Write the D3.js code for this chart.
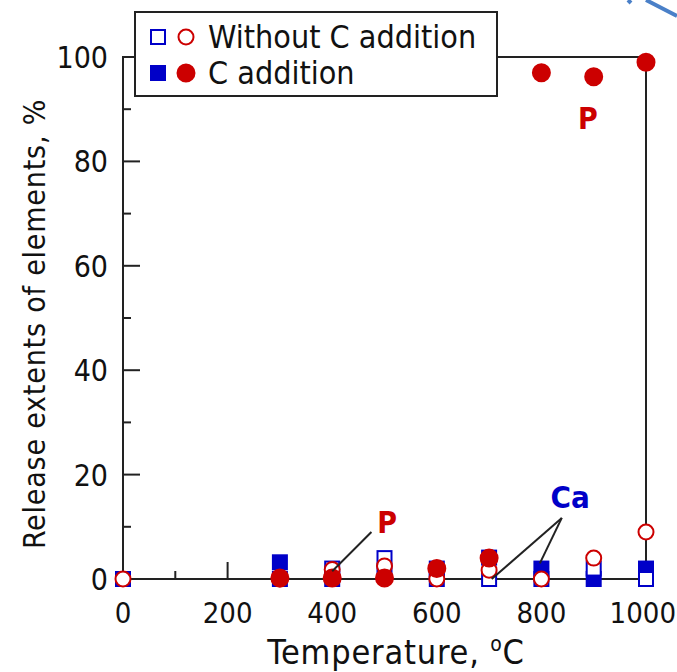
<!DOCTYPE html>
<html>
<head>
<meta charset="utf-8">
<script src="https://cdn.jsdelivr.net/npm/d3@7"></script>
<style>
  body { margin: 0; background: #fff; }
  svg { font-family: "DejaVu Sans Condensed", "DejaVu Sans", sans-serif; font-stretch: condensed; }
</style>
</head>
<body>
<svg id="drawing_region"></svg>
<script>
// temperatures, degC
const temps = [0, 300, 400, 500, 600, 700, 800, 900, 1000];
const tempsC = [300, 400, 500, 600, 700, 800, 900, 1000];

// Ca release, %
const caWithout = [0, 0, 2, 4, 0, 0, 0, 2, 0];
const caWith = [3.2, 0, 1, 2, 4.1, 2, 0, 2];

// P release, %
const pWithout = [0, 0, 1.8, 2.5, 0, 1.7, 0, 4, 9];
const pWith = [0.2, 0.2, 0.2, 2, 4, 97, 96.2, 99];

const xTicks = [0, 200, 400, 600, 800, 1000];
const yTicks = [0, 20, 40, 60, 80, 100];
const legendLabels = ['Without C addition', 'C addition'];

const width = 677, height = 672;
const blue = '#0000c8', red = '#cc0000', ink = '#222';

const svg = d3.select('#drawing_region')
    .attr('width', width)
    .attr('height', height);

const x = d3.scaleLinear().domain([0, 1000]).range([123, 646]);
const y = d3.scaleLinear().domain([0, 100]).range([579, 57]);

// frame
svg.append('rect')
    .attr('x', x(0)).attr('y', y(100))
    .attr('width', x(1000) - x(0)).attr('height', y(0) - y(100))
    .attr('fill', 'none').attr('stroke', ink).attr('stroke-width', 2);

// ticks, pointing inward
svg.append('g').selectAll('line').data(d3.range(10, 100, 10)).join('line')
    .attr('x1', x(0)).attr('x2', d => x(0) + (d % 20 === 0 ? 17 : 8))
    .attr('y1', d => y(d)).attr('y2', d => y(d))
    .attr('stroke', ink).attr('stroke-width', 2);
svg.append('g').selectAll('line').data(d3.range(100, 1000, 100)).join('line')
    .attr('x1', d => x(d)).attr('x2', d => x(d))
    .attr('y1', y(0)).attr('y2', d => y(0) - (d % 200 === 0 ? 17 : 8))
    .attr('stroke', ink).attr('stroke-width', 2);

// tick labels
svg.append('g').selectAll('text').data(yTicks).join('text')
    .attr('x', 108).attr('y', d => y(d) + 11)
    .attr('text-anchor', 'end').attr('font-size', 30).attr('fill', '#111')
    .text(d => d);
svg.append('g').selectAll('text').data(xTicks).join('text')
    .attr('x', d => x(d)).attr('y', 623)
    .attr('text-anchor', 'middle').attr('font-size', 29).attr('fill', '#111')
    .text(d => d)
    .each(function(d) {
        // keep the last label inside the page
        const w = this.getComputedTextLength();
        if (x(d) + w / 2 > width - 1) d3.select(this).attr('x', width - 1 - w / 2);
    });

// axis titles
svg.append('text')
    .attr('transform', 'translate(45, 324) rotate(-90)')
    .attr('text-anchor', 'middle').attr('font-size', 30).attr('letter-spacing', 0.8)
    .attr('fill', '#111')
    .text('Release extents of elements, %');
const xt = svg.append('text')
    .attr('x', 396).attr('y', 664)
    .attr('text-anchor', 'middle').attr('font-size', 34).attr('letter-spacing', 0.8)
    .attr('fill', '#111');
xt.append('tspan').text('Temperature, ');
xt.append('tspan').attr('font-size', 21).attr('dy', -13).text('o');
xt.append('tspan').attr('dy', 13).text('C');

// markers
const sq = 14, r = 7.5;
function squares(xs, vals, filled) {
    svg.append('g').selectAll('rect').data(vals).join('rect')
        .attr('x', (d, i) => x(xs[i]) - sq / 2)
        .attr('y', d => y(d) - sq / 2)
        .attr('width', sq).attr('height', sq)
        .attr('fill', filled ? blue : '#fff')
        .attr('stroke', blue).attr('stroke-width', 2);
}
function circles(xs, vals, filled) {
    svg.append('g').selectAll('circle').data(vals).join('circle')
        .attr('cx', (d, i) => x(xs[i]))
        .attr('cy', d => y(d))
        .attr('r', filled ? r + 1 : r)
        .attr('fill', filled ? red : '#fff')
        .attr('stroke', red).attr('stroke-width', 2);
}
squares(tempsC, caWith, true);
squares(temps, caWithout, false);
circles(temps, pWithout, false);
circles(tempsC, pWith, true);

// annotations
const ann = svg.append('g');
ann.append('line')
    .attr('x1', x(475)).attr('y1', y(9)).attr('x2', x(400)).attr('y2', y(1.5))
    .attr('stroke', ink).attr('stroke-width', 2);
ann.append('text')
    .attr('x', x(505)).attr('y', y(11) + 11)
    .attr('text-anchor', 'middle').attr('font-size', 30).attr('font-weight', 'bold')
    .attr('fill', red).text('P');
ann.append('text')
    .attr('x', x(889)).attr('y', y(88.3) + 11)
    .attr('text-anchor', 'middle').attr('font-size', 30).attr('font-weight', 'bold')
    .attr('fill', red).text('P');
[[705, 0], [797, 3]].forEach(p => {
    ann.append('line')
        .attr('x1', x(839)).attr('y1', y(11.7)).attr('x2', x(p[0])).attr('y2', y(p[1]))
        .attr('stroke', ink).attr('stroke-width', 2);
});
ann.append('text')
    .attr('x', x(855)).attr('y', y(15.7) + 11)
    .attr('text-anchor', 'middle').attr('font-size', 31).attr('font-weight', 'bold')
    .attr('fill', blue).text('Ca');

// legend
const leg = svg.append('g');
leg.append('rect')
    .attr('x', 135).attr('y', 12).attr('width', 362).attr('height', 84)
    .attr('fill', '#fff').attr('stroke', ink).attr('stroke-width', 2);
legendLabels.forEach((lab, i) => {
    const cy = 37 + i * 36, filled = i === 1;
    leg.append('rect')
        .attr('x', 158 - sq / 2).attr('y', cy - sq / 2).attr('width', sq).attr('height', sq)
        .attr('fill', filled ? blue : '#fff').attr('stroke', blue).attr('stroke-width', 2);
    leg.append('circle')
        .attr('cx', 186).attr('cy', cy).attr('r', filled ? r + 1 : r)
        .attr('fill', filled ? red : '#fff').attr('stroke', red).attr('stroke-width', 2);
    leg.append('text')
        .attr('x', 208).attr('y', cy + 11).attr('font-size', 32).attr('fill', '#111')
        .text(lab);
});

// stray blue stroke at top right
svg.append('path')
    .attr('d', 'M628,0 L631,3 M646,0 L677,16')
    .attr('stroke', '#4a80c8').attr('stroke-width', 4).attr('fill', 'none');
</script>
</body>
</html>
